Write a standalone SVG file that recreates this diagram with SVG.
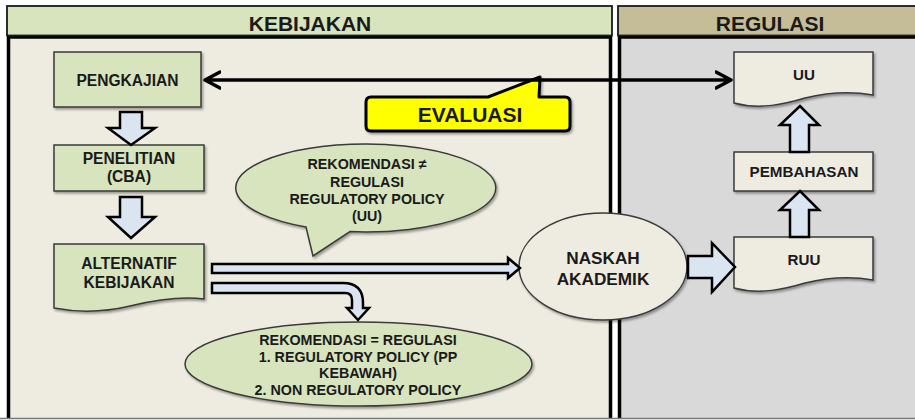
<svg xmlns="http://www.w3.org/2000/svg" width="915" height="420" viewBox="0 0 915 420">
<defs>
<filter id="sh" x="-10%" y="-10%" width="130%" height="140%">
<feDropShadow dx="1.5" dy="2" stdDeviation="1.2" flood-color="#000" flood-opacity="0.35"/>
</filter>
<marker id="chev" viewBox="0 0 20 20" refX="16" refY="10" markerWidth="20" markerHeight="20" markerUnits="userSpaceOnUse" orient="auto-start-reverse">
<path d="M1,2 L16,10 L1,18" fill="none" stroke="#000" stroke-width="3.5" stroke-linecap="round" stroke-linejoin="round"/>
</marker>
<style>
text{font-family:"Liberation Sans",Arial,sans-serif;font-weight:bold;fill:#1a1a1a;text-anchor:middle}
.hdr{font-size:21px}
.box{fill:#d7e4bd;stroke:#3a3a3a;stroke-width:1.5;filter:url(#sh)}
.rbox{fill:#eeece1;stroke:#3a3a3a;stroke-width:1.5;filter:url(#sh)}
.blk{fill:#dbe5f1;stroke:#000;stroke-width:2.5;stroke-linejoin:miter}
.t16{font-size:15.6px}
.t15{font-size:15.2px}
.t14{font-size:14.3px}
.t17{font-size:17.2px}
</style>
</defs>
<rect x="0" y="0" width="915" height="420" fill="#ffffff"/>
<g id="panel-kebijakan">
<rect x="8.5" y="37" width="602" height="381" fill="#eeece1"/>
<path d="M8.5,418 V37 H610.5 V418" fill="none" stroke="#000" stroke-width="3.5"/>
<rect x="7" y="6" width="605" height="29.5" fill="#d7e4bd" stroke="#1a1a1a" stroke-width="1.8"/>
<text class="hdr" x="310" y="31">KEBIJAKAN</text>
</g>
<g id="panel-regulasi">
<rect x="619.5" y="37" width="300" height="381" fill="#d9d9d9"/>
<path d="M619.5,418 V37 H920" fill="none" stroke="#000" stroke-width="3.5"/>
<rect x="618" y="6" width="302" height="29.5" fill="#c4bd97" stroke="#1a1a1a" stroke-width="1.8"/>
<text class="hdr" x="770" y="31">REGULASI</text>
</g>
<line x1="0" y1="418.5" x2="915" y2="418.5" stroke="#777" stroke-width="1.5"/>

<g id="pengkajian">
<rect class="box" x="54" y="52" width="147" height="55"/>
<text class="t16" x="127.5" y="86">PENGKAJIAN</text>
</g>
<g id="penelitian">
<rect class="box" x="54" y="145" width="150" height="46"/>
<text class="t16" x="129" y="164">PENELITIAN</text>
<text class="t16" x="129" y="182">(CBA)</text>
</g>
<g id="alternatif-kebijakan">
<path class="box" d="M54,244 H204 V299 C180,296 155,300 130,306 C105,312 80,313 54,308 Z"/>
<text class="t16" x="129" y="269">ALTERNATIF</text>
<text class="t16" x="129" y="288">KEBIJAKAN</text>
</g>
<g id="evaluasi">
<path d="M371,97 H488 L540,77 L539,97 H565 Q570,97 570,102 V126 Q570,131 565,131 H371 Q366,131 366,126 V102 Q366,97 371,97 Z" fill="#ffff00" stroke="#000" stroke-width="3" stroke-linejoin="round" filter="url(#sh)"/>
<text x="470" y="122" style="font-size:21px">EVALUASI</text>
</g>
<g id="rekomendasi-tidak-sama">
<path class="box" d="M306,227 A130,44 0 1 1 350,231.6 L313,256 Z"/>
<text class="t14" x="367" y="169">REKOMENDASI ≠</text>
<text class="t14" x="367" y="187">REGULASI</text>
<text class="t14" x="367" y="204">REGULATORY POLICY</text>
<text class="t14" x="367" y="221">(UU)</text>
</g>
<g id="rekomendasi-sama">
<ellipse class="box" cx="358.5" cy="364" rx="173.5" ry="42"/>
<text class="t14" x="358" y="345">REKOMENDASI = REGULASI</text>
<text class="t14" x="358" y="361.5">1. REGULATORY POLICY (PP</text>
<text class="t14" x="358" y="378">KEBAWAH)</text>
<text class="t14" x="358" y="395">2. NON REGULATORY POLICY</text>
</g>
<g id="naskah-akademik">
<ellipse class="rbox" cx="603" cy="266.5" rx="84" ry="53.5"/>
<text class="t17" x="603" y="264">NASKAH</text>
<text class="t17" x="603" y="285">AKADEMIK</text>
</g>
<g id="uu">
<path class="rbox" d="M734,52 H873 V95 C855,92 830,92 805,98 C785,104 760,110 734,103 Z"/>
<text class="t15" x="804" y="80">UU</text>
</g>
<g id="pembahasan">
<rect class="rbox" x="734" y="152" width="139" height="39"/>
<text class="t15" x="804" y="177">PEMBAHASAN</text>
</g>
<g id="ruu">
<path class="rbox" d="M734,237 H873 V280 C855,277 830,277 805,283 C785,289 760,295 734,288 Z"/>
<text class="t15" x="804" y="265">RUU</text>
</g>

<g id="connectors">
<line x1="205" y1="80" x2="731" y2="80" stroke="#000" stroke-width="3.5" marker-start="url(#chev)" marker-end="url(#chev)"/>
<path class="blk" d="M120,112 H142 V128 H155 L131,145 L108,128 H120 Z"/>
<path class="blk" d="M120,197 H142 V217 H155 L131,238 L108,217 H120 Z"/>
<path class="blk" d="M212,264 H508 V258 L520,268 L508,278 V273 H212 Z"/>
<path class="blk" d="M212,283 H343 Q363,283 363,303 V308 H369 L358,320 L347,308 H352 V300 Q352,293 345,293 H212 Z"/>
<path class="blk" d="M688,256 H712 V243 L735,267 L712,292 V278 H688 Z"/>
<path class="blk" d="M790,237 V210 H780 L800,191 L819,210 H809 V237 Z"/>
<path class="blk" d="M790,152 V125 H780 L800,106 L819,125 H809 V152 Z"/>
</g>
</svg>
